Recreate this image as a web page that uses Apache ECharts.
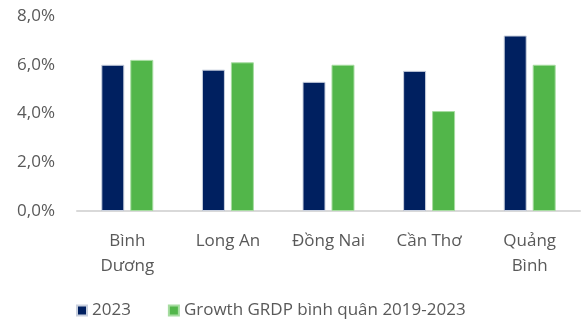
<!DOCTYPE html>
<html>
<head>
<meta charset="utf-8">
<script src="https://cdn.jsdelivr.net/npm/echarts@6/dist/echarts.min.js"></script>
<style>html,body{margin:0;padding:0;background:#fff}#c{width:581px;height:321px}</style>
</head>
<body>
<div id="c"></div>
<script>
var categories = ['Bình\nDương', 'Long An', 'Đồng Nai', 'Cần Thơ', 'Quảng\nBình'];
var seriesNames = ['2023', 'Growth GRDP bình quân 2019-2023'];
var values2023 = [6.0, 5.8, 5.3, 5.75, 7.2];
var valuesAvg = [6.2, 6.1, 6.0, 4.1, 6.0];
var yTicks = { min: 0, max: 8, interval: 2 };

var font = '"Open Sans", "Noto Sans", sans-serif';
var chart = echarts.init(document.getElementById('c'));
chart.setOption({
  animation: false,
  backgroundColor: '#fff',
  grid: { left: 77, right: 1, top: 16, bottom: 110 },
  legend: {
    left: 71, top: 297,
    itemWidth: 10, itemHeight: 10, itemGap: 37,
    icon: 'rect',
    textStyle: { fontFamily: font, fontSize: 17, color: '#595959' },
    data: seriesNames
  },
  xAxis: {
    type: 'category',
    data: categories,
    axisLine: { lineStyle: { color: '#d9d9d9', width: 2 } },
    axisTick: { show: false },
    axisLabel: { fontFamily: font, fontSize: 17, color: '#595959', margin: 18, lineHeight: 25, interval: 0 }
  },
  yAxis: {
    type: 'value',
    min: yTicks.min, max: yTicks.max, interval: yTicks.interval,
    splitLine: { show: false },
    axisLine: { show: false },
    axisTick: { show: false },
    axisLabel: {
      fontFamily: font, fontSize: 17, color: '#595959', margin: 22,
      formatter: function (v) { return v.toFixed(1).replace('.', ',') + '%'; }
    }
  },
  series: [
    {
      name: seriesNames[0], type: 'bar', data: values2023,
      barWidth: 23, barGap: '26%',
      itemStyle: { color: '#002060', borderColor: '#c9d0de', borderWidth: 1 }
    },
    {
      name: seriesNames[1], type: 'bar', data: valuesAvg,
      barWidth: 23,
      itemStyle: { color: '#52b64a', borderColor: '#a6dca0', borderWidth: 1 }
    }
  ]
});
</script>
</body>
</html>
